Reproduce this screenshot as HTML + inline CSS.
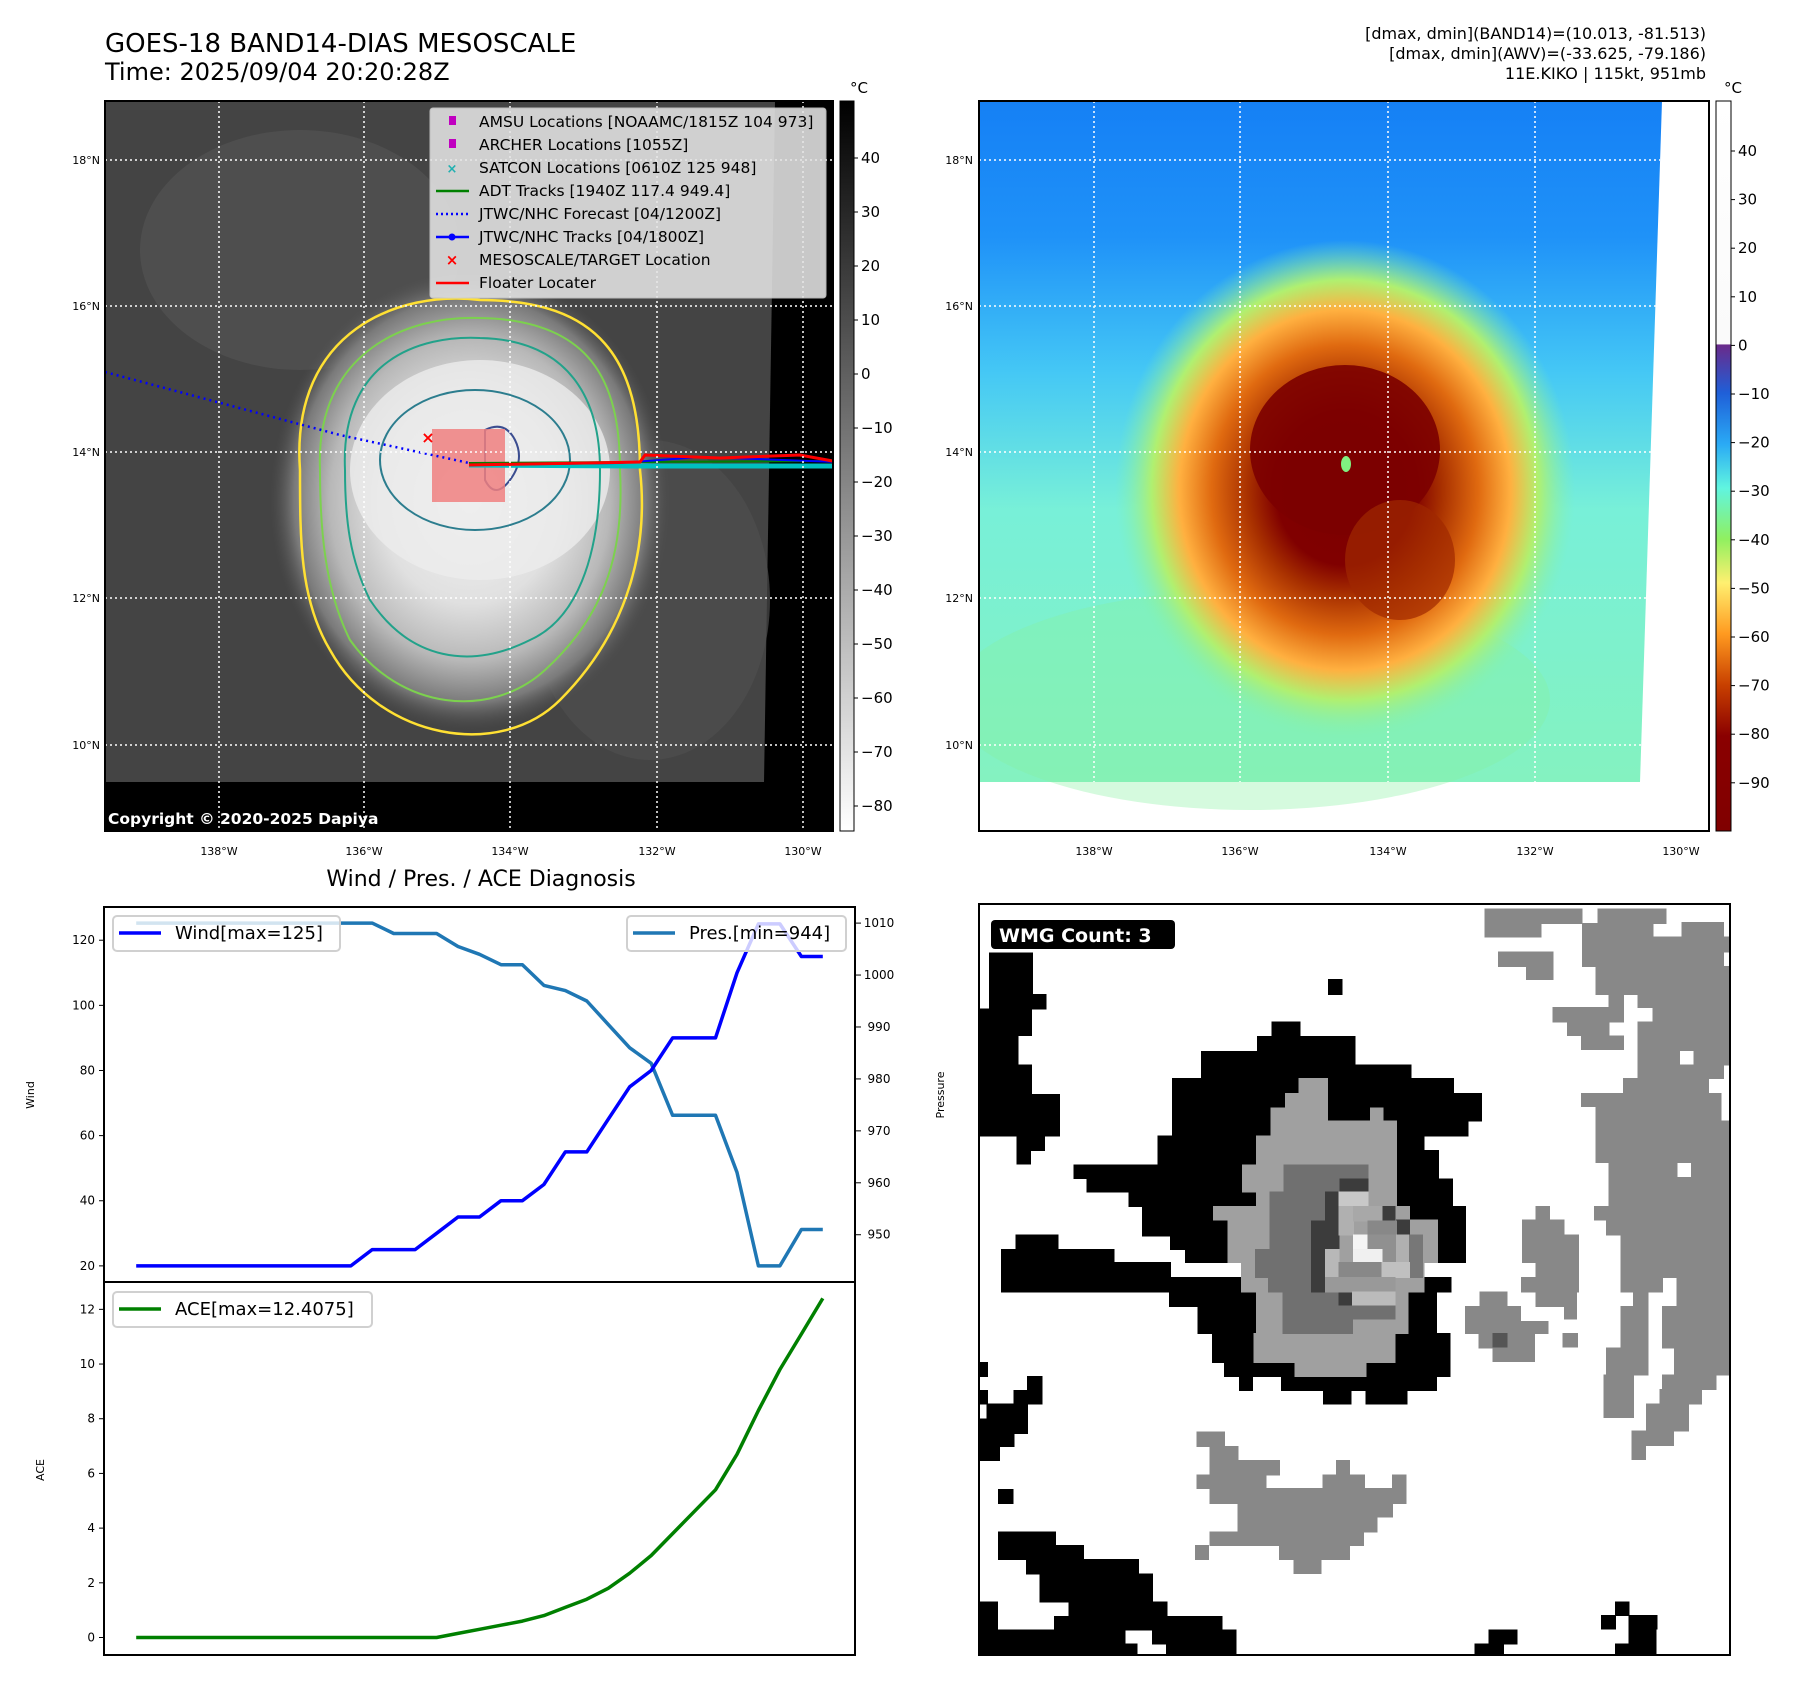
<!DOCTYPE html>
<html><head><meta charset="utf-8"><style>
body{margin:0;background:#fff;}
svg{display:block;font-family:"DejaVu Sans","Liberation Sans",sans-serif;}
</style></head><body>
<svg id="root" width="1797" height="1690" viewBox="0 0 1797 1690" xmlns="http://www.w3.org/2000/svg">
<defs>
<radialGradient id="cloud" cx="0.5" cy="0.5" r="0.5">
<stop offset="0" stop-color="#f4f4f4"/><stop offset="0.45" stop-color="#e0e0e0"/><stop offset="0.7" stop-color="#b8b8b8"/><stop offset="0.88" stop-color="#7a7a7a"/><stop offset="1" stop-color="#505050" stop-opacity="0"/>
</radialGradient>
<linearGradient id="bgsky" x1="0" y1="0" x2="0" y2="1">
<stop offset="0" stop-color="#1580f5"/><stop offset="0.2" stop-color="#1f92f8"/><stop offset="0.4" stop-color="#45c8f5"/><stop offset="0.6" stop-color="#78f0d8"/><stop offset="1" stop-color="#84f2c0"/>
</linearGradient>
<radialGradient id="storm" cx="0.5" cy="0.5" r="0.5">
<stop offset="0" stop-color="#7c0000"/><stop offset="0.3" stop-color="#800000"/><stop offset="0.42" stop-color="#a83000"/><stop offset="0.58" stop-color="#e06a10"/><stop offset="0.72" stop-color="#ffb040"/><stop offset="0.84" stop-color="#b0f070"/><stop offset="1" stop-color="#80f0b0" stop-opacity="0"/>
</radialGradient>
<linearGradient id="cb1" x1="0" y1="0" x2="0" y2="1"><stop offset="0" stop-color="#000"/><stop offset="1" stop-color="#fff"/></linearGradient>
<linearGradient id="cb2" x1="0" y1="0" x2="0" y2="1">
<stop offset="0" stop-color="#ffffff"/><stop offset="0.333" stop-color="#fafafa"/><stop offset="0.334" stop-color="#6a2a8a"/>
<stop offset="0.40" stop-color="#1f5fd8"/><stop offset="0.47" stop-color="#2aaaf5"/><stop offset="0.53" stop-color="#60f5e0"/><stop offset="0.60" stop-color="#90f060"/><stop offset="0.66" stop-color="#fff070"/><stop offset="0.73" stop-color="#ff9a20"/><stop offset="0.80" stop-color="#c84000"/><stop offset="0.87" stop-color="#8a0000"/><stop offset="1" stop-color="#800000"/>
</linearGradient>
<clipPath id="c1"><rect x="105" y="101" width="728" height="730"/></clipPath>
<clipPath id="c2"><rect x="979" y="101" width="730" height="730"/></clipPath>
</defs>

<text x="105" y="52" font-size="26">GOES-18 BAND14-DIAS MESOSCALE</text>
<text x="105" y="80" font-size="24">Time: 2025/09/04 20:20:28Z</text>
<g font-size="16" text-anchor="end">
<text x="1706" y="39">[dmax, dmin](BAND14)=(10.013, -81.513)</text>
<text x="1706" y="59">[dmax, dmin](AWV)=(-33.625, -79.186)</text>
<text x="1706" y="79">11E.KIKO | 115kt, 951mb</text>
</g>

<g clip-path="url(#c1)">
<rect x="105" y="101" width="728" height="730" fill="#000"/>
<polygon points="105,101 775,101 764,782 105,782" fill="#444"/>
<ellipse cx="300" cy="250" rx="160" ry="120" fill="#555" opacity="0.6"/>
<ellipse cx="650" cy="600" rx="120" ry="160" fill="#4e4e4e" opacity="0.7"/>
<ellipse cx="470" cy="500" rx="200" ry="230" fill="url(#cloud)"/>
<ellipse cx="480" cy="470" rx="130" ry="110" fill="#ececec" opacity="0.8"/>
<path d="M300,470 C290,330 400,290 480,300 C600,300 640,360 640,470 C650,560 620,640 560,700 C500,760 380,740 330,650 C300,600 300,540 300,470Z" fill="none" stroke="#ffe033" stroke-width="2.5"/>
<path d="M320,470 C315,350 410,315 480,318 C590,320 620,380 620,470 C625,560 600,620 545,670 C490,720 400,710 350,640 C325,590 320,530 320,470Z" fill="none" stroke="#7cd14e" stroke-width="2"/>
<path d="M345,470 C340,360 420,335 480,338 C570,340 600,400 600,470 C600,560 575,620 530,640 C470,670 410,660 370,600 C350,560 345,520 345,470Z" fill="none" stroke="#22a28a" stroke-width="2"/>
<ellipse cx="475" cy="460" rx="95" ry="70" fill="none" stroke="#2c7d8e" stroke-width="2"/>
<path d="M485,430 q20,-10 30,10 q10,20 -5,40 q-15,20 -25,0Z" fill="none" stroke="#3b4d90" stroke-width="2"/>
<rect x="432" y="429" width="73" height="73" fill="#f08080" opacity="0.85"/>
<path d="M105,372 L340,435 L469,463" fill="none" stroke="#0000ff" stroke-width="2.5" stroke-dasharray="2,4"/>
<path d="M469,465 L640,466 L838,466" stroke="#00c0c0" stroke-width="5" fill="none"/>
<path d="M469,463 L640,462 L838,461" stroke="#008000" stroke-width="2" fill="none"/>
<path d="M469,465 L620,463 L700,457 L838,462" stroke="#0000ff" stroke-width="2" fill="none"/>
<path d="M469,465 L640,462 L645,455 L720,458 L800,455 L838,462" stroke="#ff0000" stroke-width="3" fill="none"/>
<text x="428" y="443" fill="#ff0000" font-size="16" font-weight="bold" text-anchor="middle">×</text>
<g stroke="#fff" stroke-width="1.5" stroke-dasharray="2,3">
<line x1="219" y1="101" x2="219" y2="834"/><line x1="364" y1="101" x2="364" y2="834"/><line x1="510" y1="101" x2="510" y2="834"/><line x1="657" y1="101" x2="657" y2="834"/><line x1="803" y1="101" x2="803" y2="834"/>
<line x1="105" y1="160" x2="838" y2="160"/><line x1="105" y1="306" x2="838" y2="306"/><line x1="105" y1="452" x2="838" y2="452"/><line x1="105" y1="598" x2="838" y2="598"/><line x1="105" y1="745" x2="838" y2="745"/>
</g>
<text x="108" y="824" fill="#fff" font-size="15.5" font-weight="bold">Copyright © 2020-2025 Dapiya</text>
</g>
<rect x="105" y="101" width="728" height="730" fill="none" stroke="#000" stroke-width="2"/>

<g font-size="15.5">
<rect x="430" y="108" width="396" height="190" rx="3" fill="#e4e4e4" opacity="0.88" stroke="#ccc"/>
<rect x="449" y="116" width="7" height="9" fill="#c000c0"/><text x="479" y="127">AMSU Locations [NOAAMC/1815Z 104 973]</text>
<rect x="449" y="139" width="7" height="9" fill="#c000c0"/><text x="479" y="150">ARCHER Locations [1055Z]</text>
<text x="452" y="173" fill="#20b0b0" font-size="13" text-anchor="middle" font-weight="bold">×</text><text x="479" y="173">SATCON Locations [0610Z 125 948]</text>
<line x1="436" y1="191" x2="469" y2="191" stroke="#008000" stroke-width="2.5"/><text x="479" y="196">ADT Tracks [1940Z 117.4 949.4]</text>
<line x1="436" y1="214" x2="469" y2="214" stroke="#0000ff" stroke-width="2.5" stroke-dasharray="2,3"/><text x="479" y="219">JTWC/NHC Forecast [04/1200Z]</text>
<line x1="436" y1="237" x2="469" y2="237" stroke="#0000ff" stroke-width="2.5"/><circle cx="452" cy="237" r="3.5" fill="#0000ff"/><text x="479" y="242">JTWC/NHC Tracks [04/1800Z]</text>
<text x="452" y="265" fill="#ff0000" font-size="15" text-anchor="middle" font-weight="bold">×</text><text x="479" y="265">MESOSCALE/TARGET Location</text>
<line x1="436" y1="283" x2="469" y2="283" stroke="#ff0000" stroke-width="2.5"/><text x="479" y="288">Floater Locater</text>
</g>

<g clip-path="url(#c2)">
<rect x="979" y="101" width="730" height="730" fill="#fff"/>
<polygon points="979,101 1662,101 1640,782 979,782" fill="url(#bgsky)"/>
<ellipse cx="1250" cy="700" rx="300" ry="110" fill="#88f0a0" opacity="0.35"/>
<ellipse cx="1345" cy="490" rx="230" ry="250" fill="url(#storm)"/>
<ellipse cx="1345" cy="450" rx="95" ry="85" fill="#7c0000" opacity="0.9"/>
<ellipse cx="1400" cy="560" rx="55" ry="60" fill="#a02800" opacity="0.7"/>
<ellipse cx="1346" cy="464" rx="5" ry="8" fill="#80f080"/>
<g stroke="#fff" stroke-width="1.5" stroke-dasharray="2,3">
<line x1="1094" y1="101" x2="1094" y2="782"/><line x1="1240" y1="101" x2="1240" y2="782"/><line x1="1388" y1="101" x2="1388" y2="782"/><line x1="1535" y1="101" x2="1535" y2="782"/>
<line x1="979" y1="160" x2="1660" y2="160"/><line x1="979" y1="306" x2="1660" y2="306"/><line x1="979" y1="452" x2="1660" y2="452"/><line x1="979" y1="598" x2="1660" y2="598"/><line x1="979" y1="745" x2="1660" y2="745"/>
</g>
</g>
<rect x="979" y="101" width="730" height="730" fill="none" stroke="#000" stroke-width="2"/>

<g font-size="11" text-anchor="end">
<text x="100" y="164">18°N</text><text x="100" y="310">16°N</text><text x="100" y="456">14°N</text><text x="100" y="602">12°N</text><text x="100" y="749">10°N</text>
<text x="973" y="164">18°N</text><text x="973" y="310">16°N</text><text x="973" y="456">14°N</text><text x="973" y="602">12°N</text><text x="973" y="749">10°N</text>
</g>
<g font-size="11" text-anchor="middle">
<text x="219" y="855">138°W</text><text x="364" y="855">136°W</text><text x="510" y="855">134°W</text><text x="657" y="855">132°W</text><text x="803" y="855">130°W</text>
<text x="1094" y="855">138°W</text><text x="1240" y="855">136°W</text><text x="1388" y="855">134°W</text><text x="1535" y="855">132°W</text><text x="1681" y="855">130°W</text>
</g>

<rect x="840" y="101" width="14" height="730" fill="url(#cb1)" stroke="#000"/>
<rect x="1716" y="101" width="15" height="730" fill="url(#cb2)" stroke="#000"/>
<text x="850" y="93" font-size="15">°C</text>
<text x="1724" y="93" font-size="15">°C</text>
<g id="cbticks" font-size="15"></g>

<text x="481" y="886" font-size="22" text-anchor="middle">Wind / Pres. / ACE Diagnosis</text>
<g id="chart"></g>

<g id="wmg"></g>
</svg>
<script>
const NS="http://www.w3.org/2000/svg";
function mk(tag,attrs,parent,text){const e=document.createElementNS(NS,tag);for(const k in attrs)e.setAttribute(k,attrs[k]);if(text!==undefined)e.textContent=text;parent.appendChild(e);return e;}

const cb1Ticks=[40,30,20,10,0,-10,-20,-30,-40,-50,-60,-70,-80];
const cb2Ticks=[40,30,20,10,0,-10,-20,-30,-40,-50,-60,-70,-80,-90];
const cbg=document.getElementById('cbticks');
cb1Ticks.forEach(v=>{const y=158+(40-v)*5.40;
const t=mk('text',{x:861,y:y+5},cbg,String(v).replace('-','\u2212'));


mk('line',{x1:854,x2:858,y1:y,y2:y,stroke:'#000'},cbg);});
cb2Ticks.forEach(v=>{const y=151+(40-v)*4.86;
const t=mk('text',{x:1738,y:y+5},cbg,String(v).replace('-','\u2212'));


mk('line',{x1:1731,x2:1735,y1:y,y2:y,stroke:'#000'},cbg);});

const wind=[20,20,20,20,20,20,20,20,20,20,20,25,25,25,30,35,35,40,40,45,55,55,65,75,80,90,90,90,110,125,125,115,115];
const pres=[1010,1010,1010,1010,1010,1010,1010,1010,1010,1010,1010,1010,1008,1008,1008,1005.5,1004,1002,1002,998,997,995,990.5,986,983,973,973,973,962,944,944,951,951];
const ace=[0,0,0,0,0,0,0,0,0,0,0,0,0,0,0,0.15,0.3,0.45,0.6,0.8,1.1,1.4,1.8,2.35,3.0,3.8,4.6,5.4,6.7,8.3,9.8,11.1,12.4];
const windTicks=[20,40,60,80,100,120];
const presTicks=[950,960,970,980,990,1000,1010];
const aceTicks=[0,2,4,6,8,10,12];

const L=104,R=855,T1=907,M=1282,B=1655;
const n=wind.length;
const xs=i=>L+(i+1.5)/(n-1+3)*(R-L);
const yW=v=>T1+(130.2-v)/(130.2-15.05)*(M-T1);
const yP=v=>T1+(1013.1-v)/(1013.1-940.9)*(M-T1);
const yA=v=>M+(13.0-v)/(13.0+0.64)*(B-M);
const ch=document.getElementById('chart');
function line(arr,fy,color,name){const d=arr.map((v,i)=>(i?'L':'M')+xs(i).toFixed(1)+','+fy(v).toFixed(1)).join(' ');
const p=mk('path',{d:d,fill:'none',stroke:color,'stroke-width':3.5,'stroke-linejoin':'round'},ch);

}
line(pres,yP,'#1f77b4','pressure-line');
line(wind,yW,'#0000ff','wind-line');
line(ace,yA,'#008000','ace-line');
mk('rect',{x:L,y:T1,width:R-L,height:M-T1,fill:'none',stroke:'#000','stroke-width':2},ch);
mk('rect',{x:L,y:M,width:R-L,height:B-M,fill:'none',stroke:'#000','stroke-width':2},ch);
windTicks.forEach(v=>{const y=yW(v);mk('line',{x1:L-5,x2:L,y1:y,y2:y,stroke:'#000'},ch);
const t=mk('text',{x:L-9,y:y+4,'font-size':12,'text-anchor':'end'},ch,v);

});
presTicks.forEach(v=>{const y=yP(v);mk('line',{x1:R,x2:R+6,y1:y,y2:y,stroke:'#000'},ch);
const t=mk('text',{x:R+24,y:y+4,'font-size':12,'text-anchor':'middle'},ch,v);

});
aceTicks.forEach(v=>{const y=yA(v);mk('line',{x1:L-5,x2:L,y1:y,y2:y,stroke:'#000'},ch);
const t=mk('text',{x:L-9,y:y+4,'font-size':12,'text-anchor':'end'},ch,v);

});
const yl1=mk('text',{x:0,y:0,'font-size':11,transform:'translate(34,1095) rotate(-90)','text-anchor':'middle'},ch,'Wind');

const yl2=mk('text',{x:0,y:0,'font-size':11,transform:'translate(944,1095) rotate(-90)','text-anchor':'middle'},ch,'Pressure');

const yl3=mk('text',{x:0,y:0,'font-size':11,transform:'translate(44,1470) rotate(-90)','text-anchor':'middle'},ch,'ACE');

function legend(x,y,w,color,label,name){const g=mk('g',{},ch);


mk('rect',{x:x,y:y,width:w,height:35,rx:4,fill:'#fff','fill-opacity':0.8,stroke:'#d0d0d0','stroke-width':2},g);
mk('line',{x1:x+6,x2:x+48,y1:y+17,y2:y+17,stroke:color,'stroke-width':3.5},g);
mk('text',{x:x+62,y:y+23,'font-size':18},g,label);}
legend(113,916,227,'#0000ff','Wind[max=125]','wind-legend');
legend(627,916,219,'#1f77b4','Pres.[min=944]','pressure-legend');
legend(113,1292,259,'#008000','ACE[max=12.4075]','ace-legend');

const wg=document.getElementById('wmg');
const G=mk('g',{transform:'translate(979,904) scale(0.4865,0.4880)','shape-rendering':'crispEdges'},wg);
const blackR=[[22,100,110,210],[22,185,138,215],[0,215,108,270],[0,270,80,330],[0,330,108,390],[0,390,165,475],[78,475,135,505],[78,505,106,533],[718,155,746,185],
[602,242,660,272],[572,272,773,302],[457,302,773,330],[457,330,888,358],[398,358,975,388],[398,388,1033,445],[398,445,1005,475],[368,475,915,505],[368,505,945,535],[195,535,945,563],[222,563,973,590],[308,590,973,620],[336,620,1000,680],[394,680,1000,708],[424,708,1000,735],[46,708,278,735],[76,678,162,708],[46,735,394,765],[46,765,970,795],[392,795,940,825],[450,825,940,880],[480,880,968,940],[505,940,968,968],[535,968,562,997],[622,968,940,997],[708,997,765,1025],[795,997,880,1025],
[0,940,18,968],[100,968,130,997],[0,997,18,1025],[72,997,130,1025],[16,1025,100,1055],[0,1055,100,1085],[0,1085,72,1112],[0,1112,42,1140],[40,1200,70,1228],[40,1287,157,1315],[40,1315,215,1343],[98,1343,328,1373],[125,1373,357,1430],[185,1430,386,1460],[0,1430,38,1488],[155,1460,500,1488],[0,1488,300,1516],[357,1488,528,1516],[0,1516,325,1540],[385,1516,528,1540],[1048,1488,1106,1516],[1020,1516,1078,1540],[1308,1430,1336,1458],[1280,1458,1308,1486],[1336,1458,1394,1486],[1336,1486,1392,1540],[1308,1516,1336,1540]];
const grayR=[[1040,10,1240,40],[1040,40,1155,68],[1272,10,1412,40],[1240,40,1385,68],[1445,38,1530,68],[1240,68,1545,98],[1068,98,1180,128],[1240,98,1530,128],[1125,128,1180,155],[1268,128,1545,185],[1295,185,1325,212],[1355,185,1545,212],[1180,212,1325,242],[1385,212,1545,300],[1210,242,1295,270],[1238,270,1325,298],[1355,242,1385,300],[1355,300,1440,330],[1470,300,1545,330],[1355,330,1530,358],[1325,358,1500,388],[1238,388,1525,415],[1268,415,1525,445],[1268,445,1545,530],[1295,530,1435,560],[1465,530,1545,560],[1295,560,1545,620],[1265,620,1545,648],[1290,648,1545,678],[1320,678,1545,765],[1320,765,1405,795],[1435,765,1545,795],[1345,795,1375,825],[1435,795,1545,825],[1320,825,1375,910],[1405,825,1545,910],[1290,910,1375,965],[1430,910,1545,965],[1285,965,1345,1052],[1405,965,1515,995],[1400,995,1485,1025],[1372,1025,1458,1080],[1342,1080,1428,1110],[1342,1110,1370,1138],
[1145,620,1173,648],[1117,648,1203,678],[1117,678,1232,735],[1145,735,1232,765],[1115,765,1232,795],[1030,795,1085,825],[1145,795,1228,825],[1000,825,1113,855],[1203,825,1228,850],[1000,855,1170,880],[1028,880,1142,910],[1056,910,1142,938],[1200,880,1230,908],
[448,1082,505,1112],[475,1112,532,1140],[475,1140,618,1170],[735,1140,762,1170],[448,1170,590,1198],[707,1170,792,1198],[850,1170,878,1198],[475,1198,878,1228],[532,1228,850,1256],[532,1256,818,1287],[475,1287,790,1315],[445,1315,472,1343],[618,1315,762,1343],[647,1343,703,1372]];
const innerR=[[658,358,716,388],[630,388,716,418],[600,418,716,445],[805,418,830,445],[600,445,858,475],[570,475,858,535],[542,535,858,590],[570,590,858,620],[482,620,885,648],[512,648,942,735],[540,735,915,795],[570,795,882,880],[565,880,855,940],[650,940,795,968]];
const darkR=[[627,535,800,590],[598,590,712,708],[568,708,712,765],[595,765,738,795],[625,795,738,880],[710,850,768,880],[740,822,855,850]];
const cellR=[[742,563,800,590,'#3c3c3c'],[712,590,740,650,'#3c3c3c'],[683,650,740,795,'#3c3c3c'],[828,620,855,648,'#3c3c3c'],[858,648,885,678,'#3c3c3c'],[740,795,768,822,'#3c3c3c'],
[740,590,800,620,'#c8c8c8'],[740,620,770,678,'#b0b0b0'],[770,620,828,650,'#a8a8a8'],[800,650,858,678,'#888'],[770,678,800,708,'#f5f5f5'],[800,678,858,735,'#909090'],[770,708,828,735,'#f0f0f0'],[712,708,740,765,'#b8b8b8'],[858,678,885,735,'#b0b0b0'],[885,678,912,765,'#777'],[740,735,828,765,'#888'],[828,735,885,765,'#c0c0c0'],[712,765,855,795,'#999'],[768,795,855,822,'#bbb'],[1056,880,1085,908,'#555']];
mk('rect',{x:0,y:0,width:1544,height:1540,fill:'#fff'},G);
function draw(list,col){list.forEach(r=>mk('rect',{x:r[0]-1,y:r[1]-1,width:r[2]-r[0]+2,height:r[3]-r[1]+2,fill:r[4]||col},G));}
draw(blackR,'#000');draw(grayR,'#888');draw(innerR,'#a0a0a0');draw(darkR,'#707070');draw(cellR,'#000');
mk('rect',{x:979,y:904,width:751,height:751,fill:'none',stroke:'#000','stroke-width':2},wg);
mk('rect',{x:991,y:920,width:184,height:29,rx:4,fill:'#000'},wg);
const wt=mk('text',{x:999,y:942,fill:'#fff','font-size':19,'font-weight':'bold'},wg,'WMG Count: 3');


</script>
</body></html>
